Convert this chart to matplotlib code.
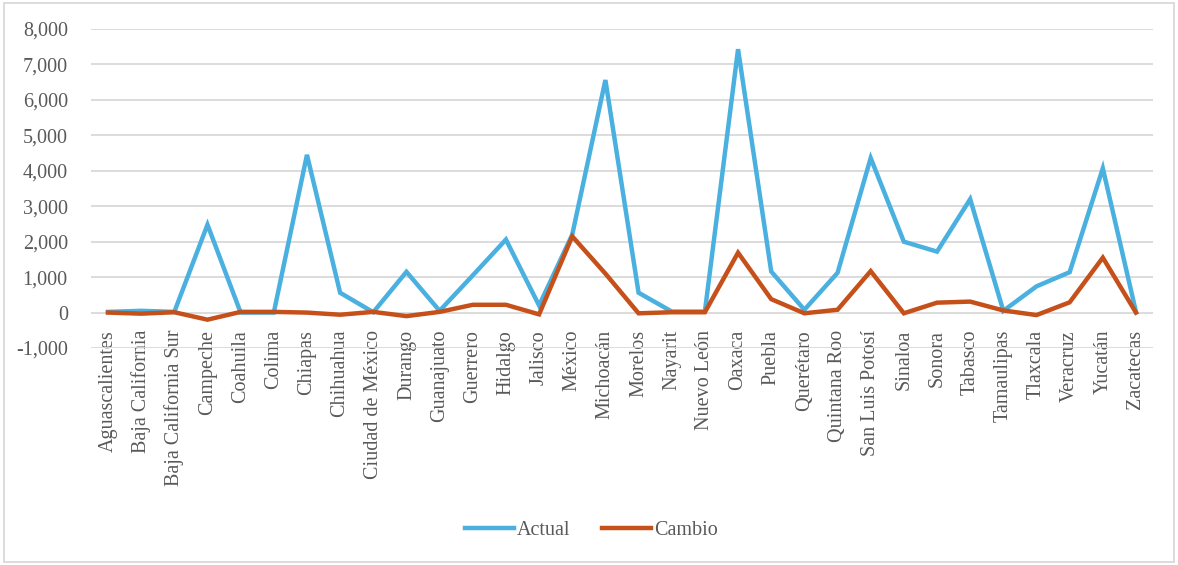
import matplotlib
matplotlib.use("Agg")
import matplotlib.pyplot as plt
from matplotlib.patches import Rectangle

estados = [
    "Aguascalientes", "Baja California", "Baja California Sur", "Campeche",
    "Coahuila", "Colima", "Chiapas", "Chihuahua", "Ciudad de México",
    "Durango", "Guanajuato", "Guerrero", "Hidalgo", "Jalisco", "México",
    "Michoacán", "Morelos", "Nayarit", "Nuevo León", "Oaxaca", "Puebla",
    "Querétaro", "Quintana Roo", "San Luis Potosí", "Sinaloa", "Sonora",
    "Tabasco", "Tamaulipas", "Tlaxcala", "Veracruz", "Yucatán", "Zacatecas",
]

actual = [
    20, 50, 20, 2480, 0, 0, 4450, 560, 10, 1150, 50, 1050, 2060, 200, 2200,
    6560, 560, 30, 30, 7430, 1160, 80, 1120, 4360, 2000, 1720, 3200, 50,
    740, 1140, 4070, 20,
]

cambio = [
    0, -30, 10, -200, 20, 20, 0, -60, 20, -100, 20, 220, 220, -50, 2150,
    1100, -20, 10, 10, 1690, 380, -20, 80, 1170, -20, 280, 310, 60, -70,
    290, 1550, 0,
]

y_ticks = list(range(-1000, 8001, 1000))

plt.rcParams["font.family"] = ["Liberation Serif", "DejaVu Serif"]

fig = plt.figure(figsize=(11.78, 5.65), dpi=100)
ax = fig.add_axes([0.0776, 0.384, 0.9008, 0.5647])

x = list(range(len(estados)))
ax.plot(x, actual, color="#49B0E0", linewidth=3.2, label="Actual",
        solid_joinstyle="miter", zorder=3)
ax.plot(x, cambio, color="#C5501A", linewidth=3.2, label="Cambio",
        solid_joinstyle="miter", zorder=4)

ax.set_xlim(-0.5, len(estados) - 0.5)
ax.set_ylim(-1000, 8000)
ax.set_yticks(y_ticks)
ax.set_yticklabels([f"{v:,}" for v in y_ticks])
ax.set_xticks(x)
ax.set_xticklabels(estados, rotation=90, va="top", ha="center")

ax.grid(axis="y", color="#d9d9d9", linewidth=1.3)
ax.set_axisbelow(True)
for s in ax.spines.values():
    s.set_visible(False)
ax.tick_params(axis="both", length=0, labelsize=14.5, colors="#595959")
ax.tick_params(axis="y", pad=17)
ax.tick_params(axis="x", pad=-13)

leg = fig.legend(loc="center", bbox_to_anchor=(0.502, 0.061), ncol=2,
                 frameon=False, fontsize=14.5, handlelength=2.4,
                 handletextpad=0.15, columnspacing=1.6)
for t in leg.get_texts():
    t.set_color("#595959")

fig.patches.append(Rectangle((0.003, 0.006), 0.994, 0.988,
                             transform=fig.transFigure, fill=False,
                             edgecolor="#d9d9d9", linewidth=1.3))

fig.savefig("out.png", dpi=100)
